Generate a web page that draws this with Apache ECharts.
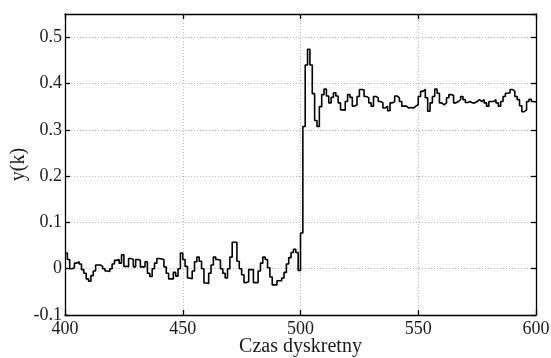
<!DOCTYPE html>
<html>
<head>
<meta charset="utf-8">
<script src="https://cdn.jsdelivr.net/npm/echarts@6/dist/echarts.min.js"></script>
<style>
  html, body { margin: 0; padding: 0; background: #fff; }
  #chart { width: 551px; height: 358px; }
</style>
</head>
<body>
<div id="chart"></div>
<script>
// Discrete-time response y(k), sampled at k = 400 ... 600
const firstSample = 400;
const outputValues = [
  0.034, 0.02, 0.0, 0.002, 0.012, 0.015, 0.01, -0.002, -0.01, -0.022,
  -0.027, -0.015, -0.005, 0.008, 0.008, 0.005, 0.0, -0.005, -0.006, 0.0,
  0.01, 0.018, 0.02, 0.012, 0.03, 0.005, 0.004, 0.022, 0.02, 0.004,
  0.02, 0.018, 0.004, 0.004, 0.015, -0.01, -0.017, 0.0, 0.012, 0.022,
  0.021, 0.02, 0.004, -0.01, -0.022, -0.022, -0.008, -0.016, 0.0, 0.034,
  0.02, 0.005, -0.02, -0.022, -0.005, 0.015, 0.025, 0.016, 0.0, -0.031,
  -0.032, -0.01, 0.008, 0.025, 0.02, 0.018, 0.0, -0.01, -0.02, 0.0,
  0.025, 0.057, 0.057, 0.016, 0.0, -0.013, -0.03, -0.028, -0.002, -0.002,
  -0.03, -0.03, -0.005, 0.012, 0.025, 0.02, 0.002, -0.018, -0.035, -0.035,
  -0.026, -0.026, -0.02, -0.008, 0.01, 0.024, 0.035, 0.042, 0.035, -0.004,
  0.077,
  0.307, 0.44, 0.474, 0.44, 0.378, 0.32, 0.307, 0.35, 0.376, 0.388,
  0.373, 0.358, 0.37, 0.38, 0.373, 0.358, 0.343, 0.342, 0.361, 0.376,
  0.37, 0.351, 0.354, 0.372, 0.387, 0.386, 0.372, 0.369, 0.358, 0.351,
  0.372, 0.369, 0.361, 0.358, 0.347, 0.351, 0.341, 0.358, 0.361, 0.373,
  0.369, 0.361, 0.351, 0.351, 0.347, 0.348, 0.347, 0.351, 0.354, 0.372,
  0.383, 0.387, 0.369, 0.34, 0.358, 0.372, 0.388, 0.379, 0.358, 0.354,
  0.358, 0.369, 0.376, 0.374, 0.358, 0.361, 0.365, 0.372, 0.365, 0.359,
  0.361, 0.358, 0.358, 0.361, 0.365, 0.361, 0.365, 0.358, 0.351, 0.361,
  0.361, 0.365, 0.358, 0.351, 0.361, 0.372, 0.379, 0.38, 0.387, 0.383,
  0.372, 0.365, 0.352, 0.339, 0.343, 0.361, 0.366, 0.361, 0.36, 0.36
];
const xTicks = { min: 400, max: 600, step: 50 };
const yTicks = { min: -0.1, max: 0.55, step: 0.1 };
const xLabel = 'Czas dyskretny';
const yLabel = 'y(k)';

const points = outputValues.map((v, i) => [firstSample + i, v]);

const font = 'Liberation Serif';
const axisLineStyle = { color: '#000', width: 1.3 };
const gridLine = { show: true, lineStyle: { color: '#bbb', type: [1, 2], width: 1 } };
const labelStyle = { color: '#1a1a1a', fontFamily: font, fontSize: 18 };
const nameStyle = { color: '#1a1a1a', fontFamily: font, fontSize: 20 };

function fmtY(v) {
  const r = Math.round(v * 10) / 10;
  return r === 0 ? '0' : String(r);
}

const chart = echarts.init(document.getElementById('chart'), null, { renderer: 'canvas' });
chart.setOption({
  animation: false,
  backgroundColor: '#fff',
  grid: {
    left: 65, right: 15, top: 14, bottom: 43, show: false,
    containLabel: false, outerBoundsMode: 'none'
  },
  xAxis: [
    {
      type: 'value', position: 'bottom',
      min: xTicks.min, max: xTicks.max, interval: xTicks.step,
      axisLine: { show: true, onZero: false, lineStyle: axisLineStyle },
      axisTick: { show: true, inside: true, length: 5, lineStyle: axisLineStyle },
      axisLabel: Object.assign({ margin: 5 }, labelStyle),
      splitLine: gridLine,
      name: xLabel, nameLocation: 'middle', nameGap: 22, nameMoveOverlap: false,
      nameTextStyle: Object.assign({ verticalAlign: 'top' }, nameStyle)
    },
    {
      type: 'value', position: 'top',
      min: xTicks.min, max: xTicks.max, interval: xTicks.step,
      axisLine: { show: true, onZero: false, lineStyle: axisLineStyle },
      axisTick: { show: true, inside: true, length: 5, lineStyle: axisLineStyle },
      axisLabel: { show: false },
      splitLine: { show: false }
    }
  ],
  yAxis: [
    {
      type: 'value', position: 'left',
      min: yTicks.min, max: yTicks.max, interval: yTicks.step,
      axisLine: { show: true, onZero: false, lineStyle: axisLineStyle },
      axisTick: { show: true, inside: true, length: 5, lineStyle: axisLineStyle },
      axisLabel: Object.assign({ margin: 3, showMaxLabel: false, formatter: fmtY }, labelStyle),
      splitLine: gridLine,
      name: yLabel, nameLocation: 'middle', nameGap: 36, nameRotate: 90, nameMoveOverlap: false,
      nameTextStyle: nameStyle
    },
    {
      type: 'value', position: 'right',
      min: yTicks.min, max: yTicks.max, interval: yTicks.step,
      axisLine: { show: true, onZero: false, lineStyle: axisLineStyle },
      axisTick: { show: true, inside: true, length: 5, lineStyle: axisLineStyle },
      axisLabel: { show: false },
      splitLine: { show: false }
    }
  ],
  series: [{
    type: 'line',
    xAxisIndex: 0, yAxisIndex: 0,
    data: points,
    step: 'end',
    showSymbol: false,
    lineStyle: { color: '#000', width: 1.6 }
  }]
});
</script>
</body>
</html>
